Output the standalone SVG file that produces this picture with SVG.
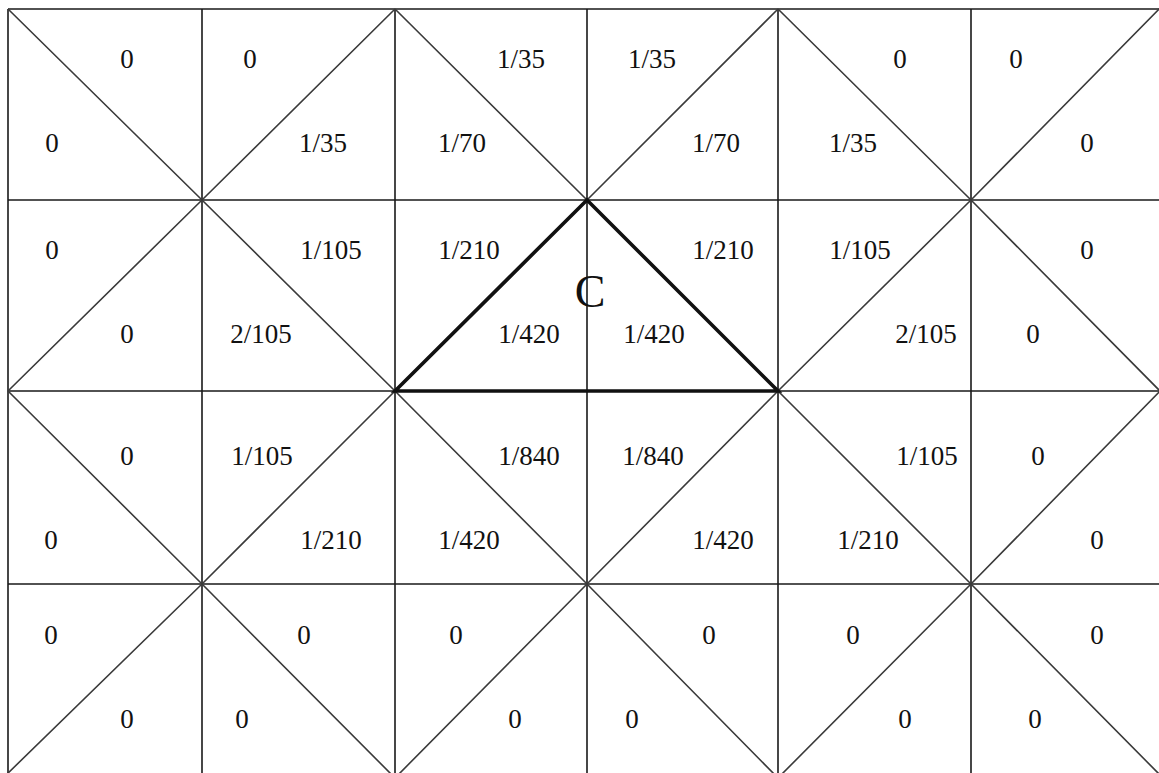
<svg xmlns="http://www.w3.org/2000/svg" width="1159" height="773" viewBox="0 0 1159 773">
<style>
.g{stroke:#1a1a1a;stroke-width:1.6;fill:none}
.d{stroke:#3a3a3a;stroke-width:1.6;fill:none}
.t{stroke:#111;stroke-width:3.6;fill:none;stroke-linejoin:miter}
text{font-family:"Liberation Serif","Times New Roman",serif;font-size:27px;fill:#111;text-anchor:middle}
.c{font-size:46px}
</style>
<rect x="0" y="0" width="1159" height="773" fill="#fff"/>
<g id="grid">
<path class="g" d="M8,9H1159M8,200H1159M8,391H1159M8,584H1159"/>
<path class="g" d="M8,9V773M202,9V773M395,9V773M587,9V773M778,9V773M971,9V773"/>
</g>
<g id="diagonals">
<path class="d" d="M8,9L202,200M202,200L395,9M395,9L587,200M587,200L778,9M778,9L971,200M971,200L1160,8"/>
<path class="d" d="M8,391L202,200M202,200L395,391M778,391L971,200M971,200L1160,391"/>
<path class="d" d="M8,391L202,584M202,584L395,391M395,391L587,584M587,584L778,391M778,391L971,584M971,584L1160,391"/>
<path class="d" d="M3,778L202,584M202,584L395,778M395,778L587,584M587,584L778,778M778,778L971,584M971,584L1160,775"/>
</g>
<g id="triangle-C">
<path class="t" d="M395,391L587,200L778,391Z"/>
<text class="c" x="590" y="307">C</text>
</g>
<g id="labels">
<text x="127" y="68">0</text><text x="52" y="152">0</text>
<text x="250" y="68">0</text><text x="323" y="152">1/35</text>
<text x="521" y="68">1/35</text><text x="462" y="152">1/70</text>
<text x="652" y="68">1/35</text><text x="716" y="152">1/70</text>
<text x="900" y="68">0</text><text x="853" y="152">1/35</text>
<text x="1016" y="68">0</text><text x="1087" y="152">0</text>

<text x="52" y="259">0</text><text x="127" y="343">0</text>
<text x="331" y="259">1/105</text><text x="261" y="343">2/105</text>
<text x="469" y="259">1/210</text><text x="529" y="343">1/420</text>
<text x="723" y="259">1/210</text><text x="654" y="343">1/420</text>
<text x="860" y="259">1/105</text><text x="926" y="343">2/105</text>
<text x="1087" y="259">0</text><text x="1033" y="343">0</text>

<text x="127" y="465">0</text><text x="51" y="549">0</text>
<text x="262" y="465">1/105</text><text x="331" y="549">1/210</text>
<text x="529" y="465">1/840</text><text x="469" y="549">1/420</text>
<text x="653" y="465">1/840</text><text x="723" y="549">1/420</text>
<text x="927" y="465">1/105</text><text x="868" y="549">1/210</text>
<text x="1038" y="465">0</text><text x="1097" y="549">0</text>

<text x="51" y="644">0</text><text x="127" y="728">0</text>
<text x="304" y="644">0</text><text x="242" y="728">0</text>
<text x="456" y="644">0</text><text x="515" y="728">0</text>
<text x="709" y="644">0</text><text x="632" y="728">0</text>
<text x="853" y="644">0</text><text x="905" y="728">0</text>
<text x="1097" y="644">0</text><text x="1035" y="728">0</text>
</g>
</svg>
